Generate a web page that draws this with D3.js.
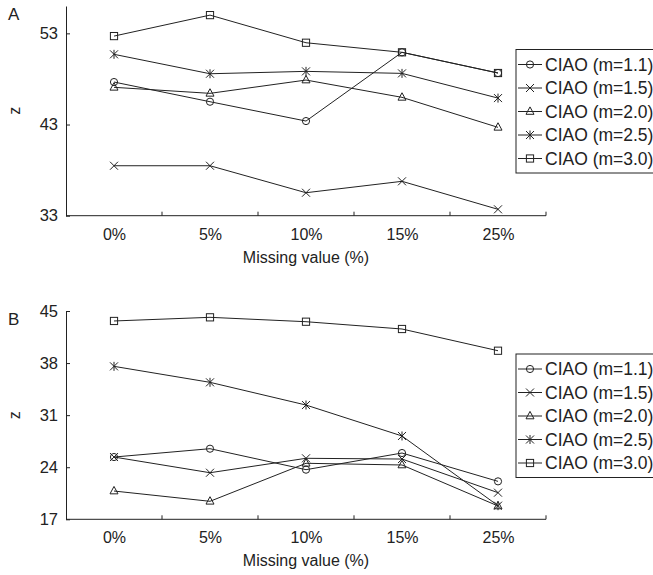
<!DOCTYPE html>
<html>
<head>
<meta charset="utf-8">
<script src="https://cdn.jsdelivr.net/npm/d3@7"></script>
<style>
  body { margin: 0; background: #fff; }
  svg { display: block; font-family: "Liberation Sans", Arial, sans-serif; }
  text { fill: #222; }
</style>
</head>
<body>
<script>
const width = 653,
  height = 575;

const missing = ["0%", "5%", "10%", "15%", "25%"];
const seriesNames = ["CIAO (m=1.1)", "CIAO (m=1.5)", "CIAO (m=2.0)", "CIAO (m=2.5)", "CIAO (m=3.0)"];
const markers = ["circle", "cross", "triangle", "asterisk", "square"];

// panel A values, one row per series
const zA_m11 = [47.66, 45.5, 43.38, 50.92, 48.65];
const zA_m15 = [38.48, 38.48, 35.52, 36.77, 33.7];
const zA_m20 = [47.08, 46.42, 47.88, 45.98, 42.69];
const zA_m25 = [50.7, 48.57, 48.83, 48.61, 45.9];
const zA_m30 = [52.7, 55.0, 51.97, 50.92, 48.65];
const yTicksA = [33, 43, 53];

// panel B values
const zB_m11 = [25.37, 26.49, 23.67, 25.91, 22.1];
const zB_m15 = [25.37, 23.26, 25.2, 25.1, 20.58];
const zB_m20 = [20.8, 19.42, 24.53, 24.3, 18.79];
const zB_m25 = [37.56, 35.41, 32.36, 28.2, 18.83];
const zB_m30 = [43.66, 44.15, 43.56, 42.58, 39.66];
const yTicksB = [17, 24, 31, 38, 45];

const svg = d3
  .select("body")
  .append("svg")
  .attr("width", width)
  .attr("height", height);

const ink = "#222";

// marker shapes, drawn open like matlab
function drawMarker(g, type) {
  if (type === "circle") {
    g.append("circle").attr("r", 3.6);
  } else if (type === "square") {
    g.append("rect").attr("x", -3.6).attr("y", -3.6).attr("width", 7.2).attr("height", 7.2);
  } else if (type === "triangle") {
    g.append("path").attr("d", "M0,-4.6L4,2.8L-4,2.8Z");
  } else if (type === "cross") {
    g.append("path").attr("d", "M-4,-4L4,4M-4,4L4,-4");
  } else if (type === "asterisk") {
    g.append("path").attr("d", "M-4,-4L4,4M-4,4L4,-4M0,-4.5L0,4.5");
  }
}

function drawPanel(cfg) {
  const { series, domain, yTicks, top, bottom, letter, legendTop } = cfg;
  const left = 66,
    right = 546;

  const x = d3.scalePoint().domain(missing).range([left, right]).padding(0.5);
  const y = d3.scaleLinear().domain(domain).range([bottom, top]);
  const step = x.step();

  const g = svg.append("g");

  // y axis
  const axisY = d3.axisLeft(y).tickValues(yTicks).tickSizeInner(-4).tickSizeOuter(0).tickPadding(8);
  const gy = g.append("g").attr("transform", `translate(${left},0)`).call(axisY);
  gy.selectAll("text").attr("font-size", 16.5).attr("font-family", null);
  gy.selectAll("path, line").attr("stroke", ink);

  // x axis: labels at band centers, tick marks at band edges
  const axisX = d3.axisBottom(x).tickSize(0).tickPadding(12.5);
  const gx = g.append("g").attr("transform", `translate(0,${bottom})`).call(axisX);
  gx.select(".domain").remove();
  gx.selectAll("text").attr("font-size", 16).attr("font-family", null);

  g.append("line")
    .attr("x1", left)
    .attr("x2", right)
    .attr("y1", bottom)
    .attr("y2", bottom)
    .attr("stroke", ink);

  g.selectAll(".xtick")
    .data(missing)
    .enter()
    .append("line")
    .attr("class", "xtick")
    .attr("x1", (d) => x(d) + step / 2)
    .attr("x2", (d) => x(d) + step / 2)
    .attr("y1", bottom)
    .attr("y2", bottom - 4)
    .attr("stroke", ink);

  // labels
  g.append("text")
    .attr("x", (left + right) / 2)
    .attr("y", bottom + 47)
    .attr("text-anchor", "middle")
    .attr("font-size", 16)
    .text("Missing value (%)");

  g.append("text")
    .attr("transform", `translate(20,${(top + bottom) / 2}) rotate(-90)`)
    .attr("text-anchor", "middle")
    .attr("font-size", 16)
    .text("z");

  g.append("text").attr("x", 8).attr("y", top + 13.5).attr("font-size", 17).text(letter);

  // lines + markers
  const line = d3
    .line()
    .x((d, i) => x(missing[i]))
    .y((d) => y(d));

  series.forEach((vals, si) => {
    g.append("path")
      .attr("d", line(vals))
      .attr("fill", "none")
      .attr("stroke", ink)
      .attr("stroke-width", 1);

    vals.forEach((v, i) => {
      const m = g
        .append("g")
        .attr("transform", `translate(${x(missing[i])},${y(v)})`)
        .attr("fill", "none")
        .attr("stroke", ink)
        .attr("stroke-width", 1);
      drawMarker(m, markers[si]);
    });
  });

  // legend
  const rowH = 23.5;
  const lg = g.append("g").attr("transform", `translate(516,${legendTop})`);
  lg.append("rect")
    .attr("x", 0)
    .attr("y", 0)
    .attr("width", 170)
    .attr("height", rowH * 5 + 6)
    .attr("fill", "#fff")
    .attr("stroke", ink);

  seriesNames.forEach((name, i) => {
    const cy = 15 + i * rowH;
    lg.append("line")
      .attr("x1", 2)
      .attr("x2", 26)
      .attr("y1", cy)
      .attr("y2", cy)
      .attr("stroke", ink);
    const m = lg
      .append("g")
      .attr("transform", `translate(14,${cy})`)
      .attr("fill", "none")
      .attr("stroke", ink);
    drawMarker(m, markers[i]);
    lg.append("text")
      .attr("x", 29)
      .attr("y", cy)
      .attr("dy", "0.36em")
      .attr("font-size", 17.5)
      .text(name);
  });
}

drawPanel({
  series: [zA_m11, zA_m15, zA_m20, zA_m25, zA_m30],
  domain: [33, 56],
  yTicks: yTicksA,
  top: 6,
  bottom: 215.7,
  letter: "A",
  legendTop: 49.5
});

drawPanel({
  series: [zB_m11, zB_m15, zB_m20, zB_m25, zB_m30],
  domain: [17, 45],
  yTicks: yTicksB,
  top: 311,
  bottom: 519.3,
  letter: "B",
  legendTop: 354
});
</script>
</body>
</html>
